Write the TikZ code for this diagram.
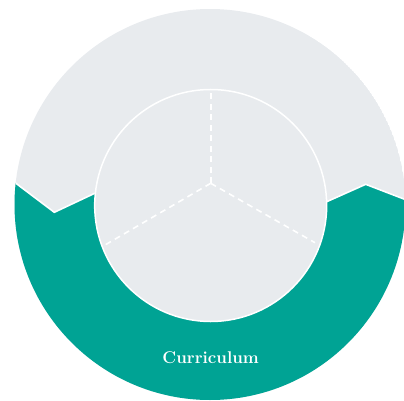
\documentclass[tikz,border=0pt]{standalone}
\usepackage{fontspec}
\definecolor{curteal}{RGB}{0,163,148}
\definecolor{ringgray}{RGB}{232,235,238}

\begin{document}
\begin{tikzpicture}[x=1pt,y=-1pt,
    gap/.style={white,line width=1.6pt,line join=miter},
    spoke/.style={white,line width=1.6pt,dash pattern=on 6pt off 4.5pt},
    label/.style={text=white,font=\fontsize{17}{20}\selectfont\bfseries}]
  \useasboundingbox (0,0) rectangle (404,401);
  \coordinate (o)   at (210,204.5);
  \coordinate (c)   at (210.7,205.5);
  \coordinate (hub) at (210.7,183.3);

  % outer ring
  \begin{scope}
    \clip (o) circle (195.5);
    \fill[ringgray] (o) circle (195.5);
    \fill[curteal] (-10,163.7) -- (54.3,212.3) -- (94.7,193.3) -- (326.7,201.7)
      -- (365.7,184.3) -- (420,205.2) -- (420,420) -- (-10,420) -- cycle;
    \draw[gap] (-10,163.7) -- (54.3,212.3) -- (94.7,193.3);
    \draw[gap] (326.7,201.7) -- (365.7,184.3) -- (420,205.2);
  \end{scope}

  % inner circle
  \fill[ringgray] (c) circle (116);
  \draw[white,line width=1.5pt] (c) circle (116);
  \coordinate (top)   at (210.7,89.5);
  \coordinate (left)  at (103.3,246);
  \coordinate (right) at (315,242.7);
  \draw[spoke] (hub) -- (top);
  \draw[spoke] (hub) -- (left);
  \draw[spoke] (hub) -- (right);

  \node[label] (curriculum) at (210.7,358) {Curriculum};
\end{tikzpicture}
\end{document}
